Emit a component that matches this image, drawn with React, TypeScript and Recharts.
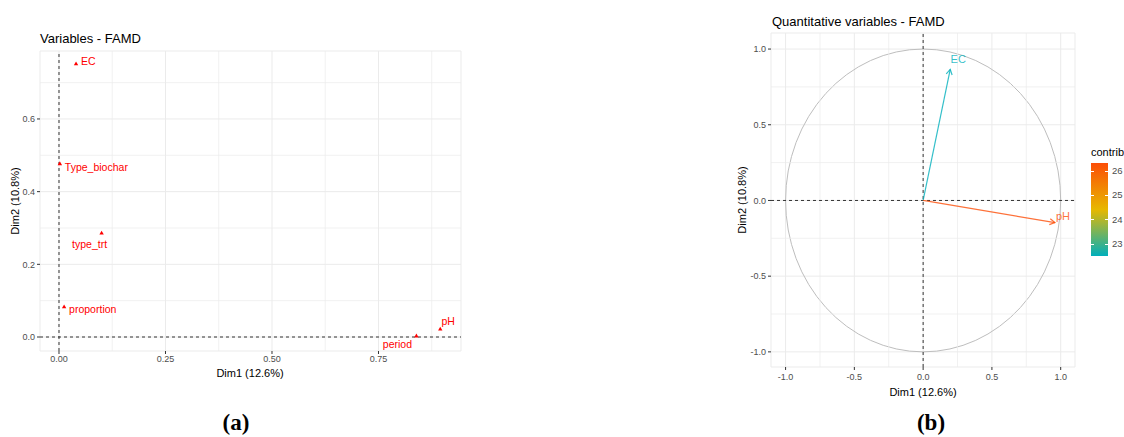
import React from 'react';
import { ScatterChart, Scatter, XAxis, YAxis, CartesianGrid, ReferenceLine, ReferenceArea } from 'recharts';

// (a) Variables - FAMD
const varNames = ['EC', 'Type_biochar', 'type_trt', 'proportion', 'period', 'pH'];
const varDim1 = [0.04, 0.002, 0.1, 0.012, 0.839, 0.895];
const varDim2 = [0.752, 0.477, 0.286, 0.083, 0.003, 0.022];

// (b) Quantitative variables - FAMD
const quantNames = ['EC', 'pH'];
const quantDim1 = [0.197, 0.958];
const quantDim2 = [0.866, -0.146];
const quantContrib = [22.51, 26.33];

const leftXTicks = [0, 0.25, 0.5, 0.75];
const leftYTicks = [0, 0.2, 0.4, 0.6];
const leftXMinor = [0.125, 0.375, 0.625, 0.875];
const leftYMinor = [0.1, 0.3, 0.5, 0.7];
const rightTicks = [-1, -0.5, 0, 0.5, 1];
const rightMinor = [-0.75, -0.25, 0.25, 0.75];
const contribTicks = [23, 24, 25, 26];

const FONT = '"Liberation Sans", Arial, sans-serif';
const GRID = '#EBEBEB';
const gradStops = ['#00AFBB', '#E7B800', '#FC4E07'];

const varData = varNames.map((name, i) => ({ name, x: varDim1[i], y: varDim2[i] }));
const quantData = quantNames.map((name, i) => ({ name, x: quantDim1[i], y: quantDim2[i], contrib: quantContrib[i] }));

const cMin = Math.min(...quantContrib);
const cMax = Math.max(...quantContrib);

const hexToRgb = (h: string) => [1, 3, 5].map((k) => parseInt(h.slice(k, k + 2), 16));
const contribColor = (v: number) => {
  const t = (v - cMin) / (cMax - cMin);
  const seg = t < 0.5 ? 0 : 1;
  const f = t < 0.5 ? t * 2 : (t - 0.5) * 2;
  const a = hexToRgb(gradStops[seg]);
  const b = hexToRgb(gradStops[seg + 1]);
  const c = a.map((av, k) => Math.round(av + (b[k] - av) * f));
  return `rgb(${c[0]},${c[1]},${c[2]})`;
};

// label placement around each point (pixels)
const varLabelPos: Record<string, { dx: number; dy: number; anchor: string }> = {
  EC: { dx: 5, dy: -3, anchor: 'start' },
  Type_biochar: { dx: 5, dy: 3, anchor: 'start' },
  type_trt: { dx: -12, dy: 11, anchor: 'middle' },
  proportion: { dx: 5, dy: 2, anchor: 'start' },
  period: { dx: -19, dy: 8, anchor: 'middle' },
  pH: { dx: 8, dy: -8, anchor: 'middle' },
};
const quantLabelPos: Record<string, { dx: number; dy: number }> = {
  EC: { dx: 8, dy: -10 },
  pH: { dx: 8, dy: -7 },
};

const tickStyle = { fontSize: 9, fill: '#4D4D4D', fontFamily: FONT };

const VarPoint = (props: any) => {
  const { cx, cy, payload } = props;
  const p = varLabelPos[payload.name];
  return (
    <g>
      <path d={`M${cx},${cy - 2.3} L${cx + 2.2},${cy + 1.5} L${cx - 2.2},${cy + 1.5} Z`} fill="#FF0000" />
      <text x={cx + p.dx} y={cy + p.dy} textAnchor={p.anchor} dominantBaseline="central" fontSize={10.5} fill="#FF0000" fontFamily={FONT}>
        {payload.name}
      </text>
    </g>
  );
};

const QuantLabel = (props: any) => {
  const { cx, cy, payload } = props;
  const p = quantLabelPos[payload.name];
  return (
    <text x={cx + p.dx} y={cy + p.dy} textAnchor="middle" dominantBaseline="central" fontSize={11}
      fill={contribColor(payload.contrib)} fillOpacity={0.8} fontFamily={FONT}>
      {payload.name}
    </text>
  );
};

const arrowShape = (color: string) => (props: any) => {
  const { x1, y1, x2, y2 } = props;
  const ang = Math.atan2(y2 - y1, x2 - x1);
  const L = 6;
  const a = Math.PI / 6;
  const p1 = `${x2 - L * Math.cos(ang - a)},${y2 - L * Math.sin(ang - a)}`;
  const p2 = `${x2 - L * Math.cos(ang + a)},${y2 - L * Math.sin(ang + a)}`;
  return (
    <g stroke={color} strokeOpacity={0.8} strokeWidth={1.2} fill="none">
      <line x1={x1} y1={y1} x2={x2} y2={y2} />
      <polyline points={`${p1} ${x2},${y2} ${p2}`} />
    </g>
  );
};

const circleShape = (props: any) => {
  const { x, y, width, height } = props;
  return <ellipse cx={x + width / 2} cy={y + height / 2} rx={width / 2} ry={height / 2} fill="none" stroke="#BEBEBE" strokeWidth={1} />;
};

const abs = (style: React.CSSProperties): React.CSSProperties => ({ position: 'absolute', fontFamily: FONT, lineHeight: 1, whiteSpace: 'nowrap', ...style });

const LeftChart = () => (
  <ScatterChart width={480} height={400} margin={{ top: 51, right: 19, left: 10, bottom: 22 }}>
    <CartesianGrid stroke={GRID} strokeWidth={1} />
    {leftXMinor.map((v) => (
      <ReferenceLine key={`xm${v}`} x={v} stroke={GRID} strokeWidth={0.7} />
    ))}
    {leftYMinor.map((v) => (
      <ReferenceLine key={`ym${v}`} y={v} stroke={GRID} strokeWidth={0.7} />
    ))}
    <XAxis type="number" dataKey="x" domain={[-0.0446, 0.9437]} allowDataOverflow ticks={leftXTicks} interval={0}
      tickFormatter={(v: number) => v.toFixed(2)} axisLine={false} tickLine={{ stroke: '#333' }} tickSize={3} tickMargin={2}
      tick={tickStyle} height={27} />
    <YAxis type="number" dataKey="y" domain={[-0.0385, 0.787]} allowDataOverflow ticks={leftYTicks} interval={0}
      tickFormatter={(v: number) => v.toFixed(1)} axisLine={false} tickLine={{ stroke: '#333' }} tickSize={3} tickMargin={2}
      tick={tickStyle} width={30} />
    <ReferenceLine x={0} stroke="#333" strokeDasharray="3 3" strokeWidth={1} />
    <ReferenceLine y={0} stroke="#333" strokeDasharray="3 3" strokeWidth={1} />
    <Scatter data={varData} isAnimationActive={false} shape={VarPoint} />
  </ScatterChart>
);

const RightChart = () => (
  <ScatterChart width={424} height={400} margin={{ top: 33, right: 49, left: 31, bottom: 3 }}>
    <CartesianGrid stroke={GRID} strokeWidth={1} />
    {rightMinor.map((v) => (
      <ReferenceLine key={`xm${v}`} x={v} stroke={GRID} strokeWidth={0.7} />
    ))}
    {rightMinor.map((v) => (
      <ReferenceLine key={`ym${v}`} y={v} stroke={GRID} strokeWidth={0.7} />
    ))}
    <XAxis type="number" dataKey="x" domain={[-1.106, 1.104]} allowDataOverflow ticks={rightTicks} interval={0}
      tickFormatter={(v: number) => v.toFixed(1)} axisLine={false} tickLine={{ stroke: '#333' }} tickSize={3} tickMargin={4}
      tick={tickStyle} height={30} />
    <YAxis type="number" dataKey="y" domain={[-1.1, 1.106]} allowDataOverflow ticks={rightTicks} interval={0}
      tickFormatter={(v: number) => v.toFixed(1)} axisLine={false} tickLine={{ stroke: '#333' }} tickSize={3} tickMargin={2}
      tick={tickStyle} width={40} />
    <ReferenceArea x1={-1} x2={1} y1={-1} y2={1} shape={circleShape} />
    <ReferenceLine x={0} stroke="#333" strokeDasharray="3 3" strokeWidth={1} />
    <ReferenceLine y={0} stroke="#333" strokeDasharray="3 3" strokeWidth={1} />
    {quantData.map((d) => (
      <ReferenceLine key={d.name} segment={[{ x: 0, y: 0 }, { x: d.x, y: d.y }]} shape={arrowShape(contribColor(d.contrib))} />
    ))}
    <Scatter data={quantData} isAnimationActive={false} shape={QuantLabel} />
  </ScatterChart>
);

const Legend = () => {
  const barTop = 163;
  const barH = 93;
  return (
    <>
      <div style={abs({ left: 1091, top: 147, fontSize: 11, color: '#000' })}>contrib</div>
      <div style={{ position: 'absolute', left: 1091, top: barTop, width: 17, height: barH,
        background: `linear-gradient(to top, ${gradStops[0]}, ${gradStops[1]}, ${gradStops[2]})` }}>
        {contribTicks.map((v) => {
          const ty = ((cMax - v) / (cMax - cMin)) * barH;
          return (
            <React.Fragment key={v}>
              <div style={{ position: 'absolute', left: 0, top: ty - 0.5, width: 3, height: 1, background: '#fff' }} />
              <div style={{ position: 'absolute', right: 0, top: ty - 0.5, width: 3, height: 1, background: '#fff' }} />
            </React.Fragment>
          );
        })}
      </div>
      {contribTicks.map((v) => (
        <div key={`l${v}`} style={abs({ left: 1112, top: barTop + ((cMax - v) / (cMax - cMin)) * barH - 5, fontSize: 9.5, color: '#4D4D4D' })}>
          {v}
        </div>
      ))}
    </>
  );
};

const App = () => (
  <div style={{ position: 'absolute', left: 0, top: 0, width: 1124, height: 437, background: '#fff', overflow: 'hidden' }}>
    <div style={{ position: 'absolute', left: 0, top: 0 }}>
      <LeftChart />
    </div>
    <div style={{ position: 'absolute', left: 700, top: 0 }}>
      <RightChart />
    </div>
    <div style={abs({ left: 40, top: 32, fontSize: 13, color: '#000' })}>Variables - FAMD</div>
    <div style={abs({ left: 772, top: 15, fontSize: 13, color: '#000' })}>Quantitative variables - FAMD</div>
    <div style={abs({ left: 250, top: 373, fontSize: 11, transform: 'translate(-50%, -50%)' })}>Dim1 (12.6%)</div>
    <div style={abs({ left: 923, top: 392, fontSize: 11, transform: 'translate(-50%, -50%)' })}>Dim1 (12.6%)</div>
    <div style={abs({ left: 15, top: 201, fontSize: 11, transform: 'translate(-50%, -50%) rotate(-90deg)' })}>Dim2 (10.8%)</div>
    <div style={abs({ left: 742, top: 200, fontSize: 11, transform: 'translate(-50%, -50%) rotate(-90deg)' })}>Dim2 (10.8%)</div>
    <Legend />
    <div style={{ position: 'absolute', left: 236, top: 411, transform: 'translateX(-50%)', fontFamily: '"Liberation Serif", serif', fontWeight: 'bold', fontSize: 23, lineHeight: 1 }}>(a)</div>
    <div style={{ position: 'absolute', left: 931, top: 411, transform: 'translateX(-50%)', fontFamily: '"Liberation Serif", serif', fontWeight: 'bold', fontSize: 23, lineHeight: 1 }}>(b)</div>
  </div>
);

export default App;
